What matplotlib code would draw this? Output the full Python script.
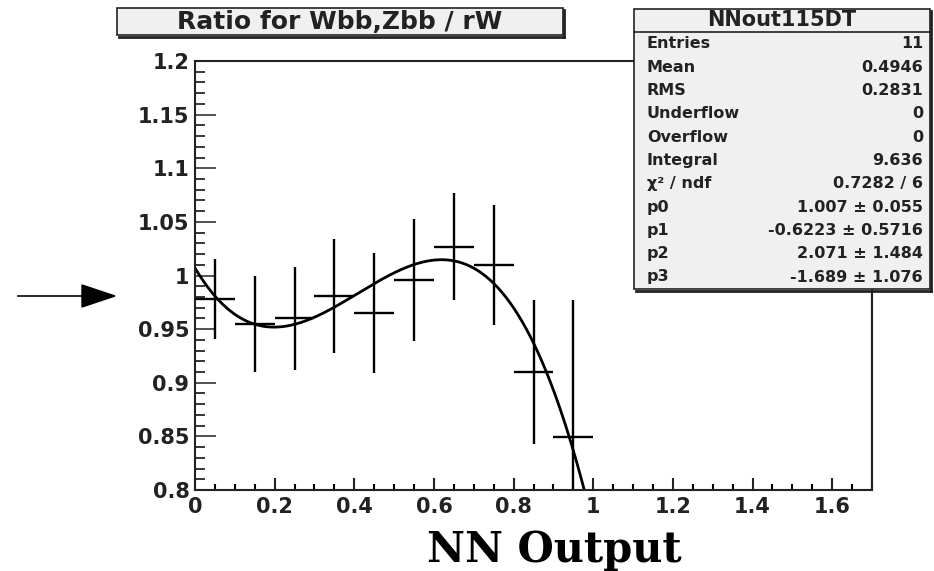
import numpy as np
import matplotlib
matplotlib.use('Agg')
from matplotlib import pyplot as plt
from matplotlib.patches import Rectangle, Polygon
from matplotlib.lines import Line2D
from matplotlib.ticker import MultipleLocator, FuncFormatter

# ------------------------------------------------------------------
# data
# ------------------------------------------------------------------
bin_centers = [0.05, 0.15, 0.25, 0.35, 0.45, 0.55, 0.65, 0.75, 0.85, 0.95]
ratio = [0.978, 0.955, 0.960, 0.981, 0.965, 0.996, 1.027, 1.010, 0.910, 0.849]
ratio_err = [0.037, 0.045, 0.048, 0.053, 0.056, 0.057, 0.050, 0.056, 0.067, 0.128]
bin_half = 0.05

fit_pars = [1.007, -0.6223, 2.071, -1.689]      # p0 + p1 x + p2 x^2 + p3 x^3

stat_names = ['Entries', 'Mean', 'RMS', 'Underflow', 'Overflow', 'Integral',
              'χ² / ndf', 'p0', 'p1', 'p2', 'p3']
stat_values = ['11', '0.4946', '0.2831', '0', '0', '9.636', '0.7282 / 6',
               '1.007 ± 0.055', '-0.6223 ± 0.5716', '2.071 ± 1.484', '-1.689 ± 1.076']

plt.rcParams['font.family'] = ['DejaVu Sans']
plt.rcParams['font.weight'] = 'bold'

W, H = 934, 571
fig = plt.figure(figsize=(W / 100, H / 100), dpi=100)


def fx(px):
    return px / W


def fy(py):
    return 1 - py / H


ax = fig.add_axes([fx(195), fy(490), fx(872) - fx(195), fy(61) - fy(490)])

ax.errorbar(bin_centers, ratio, yerr=ratio_err, xerr=bin_half, fmt='none',
            ecolor='black', elinewidth=1.7, capsize=0)

xf = np.linspace(0, 1.0, 400)
yf = np.polyval(fit_pars[::-1], xf)
ax.plot(xf, yf, color='black', lw=2)

ax.axvline(1.697, color='#f0a8a8', lw=1)    # faint red edge line seen in the picture

ax.set_xlim(0, 1.7)
ax.set_ylim(0.8, 1.2)
ax.xaxis.set_major_locator(MultipleLocator(0.2))
ax.xaxis.set_minor_locator(MultipleLocator(0.05))
ax.yaxis.set_major_locator(MultipleLocator(0.05))
ax.yaxis.set_minor_locator(MultipleLocator(0.01))
fmt = FuncFormatter(lambda v, p: f"{v:g}")
ax.xaxis.set_major_formatter(fmt)
ax.yaxis.set_major_formatter(fmt)

ax.tick_params(axis='y', which='major', direction='in', length=15, width=1.1,
               labelsize=15, pad=4, colors='#222222')
ax.tick_params(axis='y', which='minor', direction='in', length=7.2, width=1.1)
ax.tick_params(axis='x', which='major', direction='in', length=8.6, width=1.5,
               labelsize=15, pad=5, colors='#222222')
ax.tick_params(axis='x', which='minor', direction='in', length=4.3, width=1.5)
for s in ax.spines.values():
    s.set_linewidth(1.5)
    s.set_color('#222222')

# ------------------------------------------------------------------
# title box
# ------------------------------------------------------------------
fig.add_artist(Rectangle((fx(117), fy(35)), fx(563) - fx(117), fy(8) - fy(35),
                         transform=fig.transFigure, facecolor='#f0f0f0',
                         edgecolor='#222222', lw=1.2, zorder=5))
fig.add_artist(Line2D([fx(564), fx(564)], [fy(10), fy(37)], color='#222222', lw=2, zorder=5))
fig.add_artist(Line2D([fx(119), fx(564)], [fy(36.5), fy(36.5)], color='#222222', lw=2, zorder=5))
fig.text(fx(340), fy(22), 'Ratio for Wbb,Zbb / rW', ha='center', va='center',
         fontsize=18, color='#222222', zorder=6)

# ------------------------------------------------------------------
# stats box
# ------------------------------------------------------------------
fig.add_artist(Rectangle((fx(634), fy(289)), fx(930) - fx(634), fy(9) - fy(289),
                         transform=fig.transFigure, facecolor='#f0f0f0',
                         edgecolor='#222222', lw=1.2, zorder=5))
fig.add_artist(Line2D([fx(931), fx(931)], [fy(11), fy(291)], color='#222222', lw=2, zorder=5))
fig.add_artist(Line2D([fx(636), fx(931)], [fy(290.5), fy(290.5)], color='#222222', lw=2, zorder=5))
fig.add_artist(Line2D([fx(634), fx(930)], [fy(32), fy(32)], color='#222222', lw=1.2, zorder=5))
fig.text(fx(782), fy(20.5), 'NNout115DT', ha='center', va='center', fontsize=15,
         color='#222222', zorder=6)
for i, (name, val) in enumerate(zip(stat_names, stat_values)):
    y = 44 + i * 23.3
    fig.text(fx(647), fy(y), name, ha='left', va='center', fontsize=11.5,
             color='#222222', zorder=6)
    fig.text(fx(923), fy(y), val, ha='right', va='center', fontsize=11.5,
             color='#222222', zorder=6)

# ------------------------------------------------------------------
# arrow and axis label
# ------------------------------------------------------------------
fig.add_artist(Line2D([fx(18), fx(84)], [fy(296), fy(296)], color='black', lw=1.2))
fig.add_artist(Polygon([(fx(82), fy(285)), (fx(82), fy(307)), (fx(115), fy(296))],
                       closed=True, transform=fig.transFigure, facecolor='black',
                       edgecolor='black'))
fig.text(fx(554), fy(562), 'NN Output', ha='center', va='baseline',
         family='DejaVu Serif', weight='bold', fontsize=30)

fig.savefig('out.png', dpi=100)
